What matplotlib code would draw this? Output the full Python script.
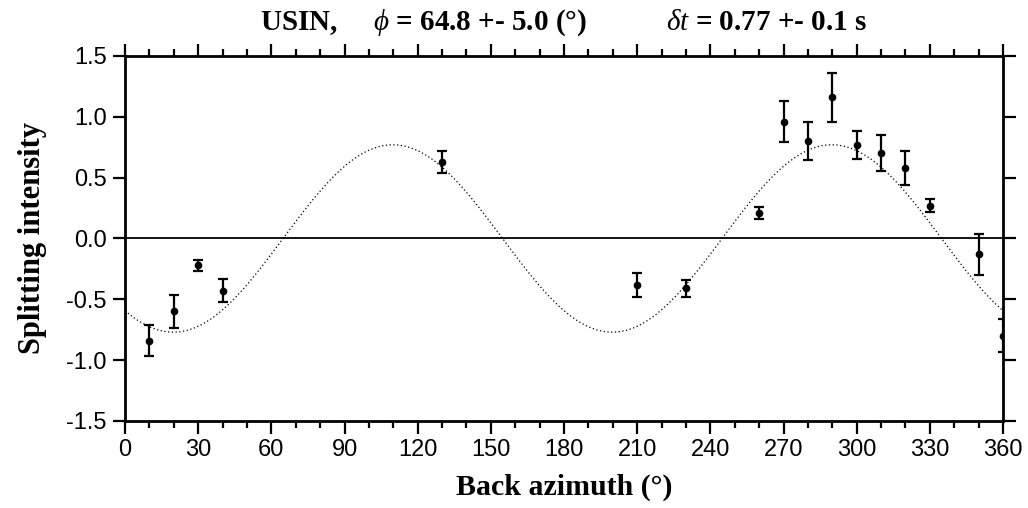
import numpy as np
import matplotlib
matplotlib.use("Agg")
import matplotlib.pyplot as plt
from matplotlib.ticker import MultipleLocator

# fit parameters (from the title)
station = "USIN"
phi, phi_err = 64.8, 5.0
dt, dt_err = 0.77, 0.1

# measured splitting intensity
baz = [10, 20, 30, 40, 130, 210, 230, 260, 270, 280, 290, 300, 310, 320, 330, 350, 360]
si = [-0.84, -0.60, -0.22, -0.43, 0.63, -0.38, -0.41, 0.21, 0.96, 0.80, 1.16,
      0.77, 0.70, 0.58, 0.27, -0.13, -0.80]
si_err = [0.125, 0.137, 0.045, 0.093, 0.093, 0.10, 0.07, 0.05, 0.17, 0.155, 0.20,
          0.113, 0.147, 0.137, 0.052, 0.167, 0.135]

plt.rcParams['mathtext.fontset'] = 'custom'
plt.rcParams['mathtext.rm'] = 'Liberation Serif:bold'
plt.rcParams['mathtext.it'] = 'Liberation Serif:italic'
plt.rcParams['mathtext.bf'] = 'Liberation Serif:bold'

fig = plt.figure(figsize=(10.28, 5.08), dpi=100)
ax = fig.add_axes([0.1216, 0.1713, 0.8541, 0.7185])

# model curve SI = dt * sin(2(baz - phi))
b = np.linspace(0, 360, 721)
ax.plot(b, dt * np.sin(np.radians(2 * (b - phi))), color='black', linestyle=(0, (1, 2)), lw=0.9)
ax.axhline(0, color='black', lw=1.3)

ax.errorbar(baz, si, yerr=si_err, fmt='o', color='black', ms=4.5, elinewidth=1.6,
            capsize=3.5, capthick=1.6)

ax.set_xlim(0, 360)
ax.set_ylim(-1.5, 1.5)
ax.xaxis.set_major_locator(MultipleLocator(30))
ax.xaxis.set_minor_locator(MultipleLocator(10))
ax.yaxis.set_major_locator(MultipleLocator(0.5))
ax.set_yticklabels([f"{v:.1f}" for v in ax.get_yticks()])

for s in ax.spines.values():
    s.set_linewidth(2)
ax.tick_params(which='both', direction='out', top=True, right=True, width=1.6,
               labelsize=17, pad=4)
ax.tick_params(which='major', length=9)
ax.tick_params(which='minor', length=5)
for lab in ax.get_xticklabels() + ax.get_yticklabels():
    lab.set_family('Liberation Sans')

ax.set_xlabel(r'Back azimuth (°)', fontsize=21.5, fontweight='bold', family='Liberation Serif', labelpad=9)
ax.set_ylabel('Splitting intensity', fontsize=22, fontweight='bold', family='Liberation Serif', labelpad=14)
ax.set_title(rf'{station},     $\phi$ = {phi} +- {phi_err} (°)           $\delta t$ = {dt} +- {dt_err} s',
             fontsize=21, fontweight='bold', family='Liberation Serif', pad=19)

fig.savefig('out.png', dpi=100)
